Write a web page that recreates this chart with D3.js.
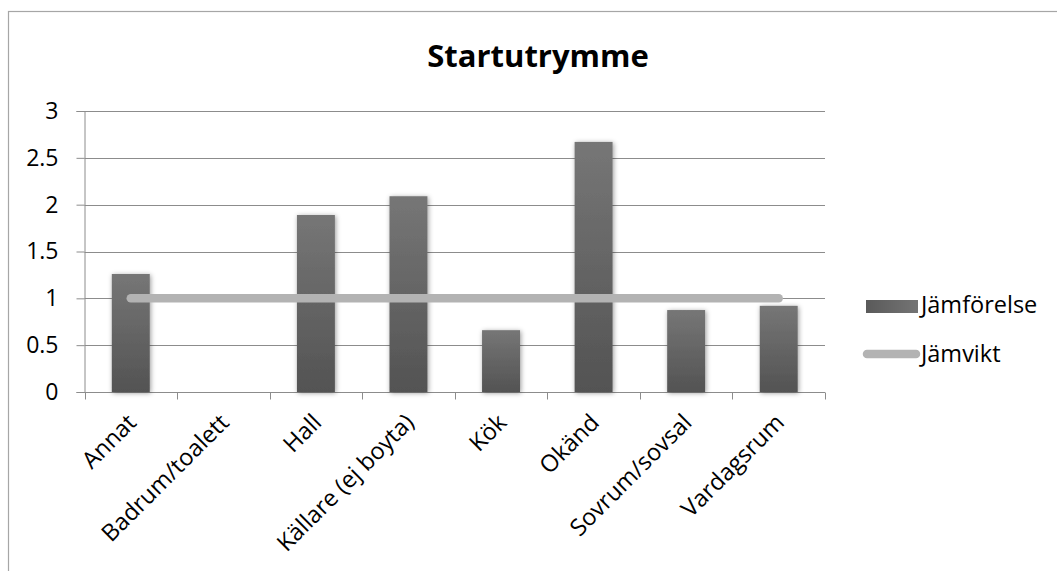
<!DOCTYPE html>
<html>
<head>
<meta charset="utf-8">
<script src="https://cdn.jsdelivr.net/npm/d3@7"></script>
<style>
  html, body { margin: 0; padding: 0; background: #fff; }
  svg { display: block; }
  text { font-family: "Open Sans", "Noto Sans", sans-serif; fill: #000; }
</style>
</head>
<body>
<svg id="chart" width="1057" height="571"></svg>
<script>
// Room categories and their comparison values
const categories = ["Annat", "Badrum/toalett", "Hall", "Källare (ej boyta)", "Kök", "Okänd", "Sovrum/sovsal", "Vardagsrum"];
const jamforelse = [1.26, 0, 1.89, 2.09, 0.66, 2.67, 0.875, 0.92];
const jamvikt = [1, 1, 1, 1, 1, 1, 1, 1];
const yTicks = [0, 0.5, 1, 1.5, 2, 2.5, 3];
const title = "Startutrymme";
const seriesNames = ["Jämförelse", "Jämvikt"];

const svg = d3.select("#chart");
const W = 1057, H = 571;
const plot = { left: 84.5, right: 825, top: 111, bottom: 392 };

const defs = svg.append("defs");
const grad = defs.append("linearGradient")
  .attr("id", "barGrad").attr("x1", 0).attr("y1", 0).attr("x2", 0).attr("y2", 1);
grad.append("stop").attr("offset", "0%").attr("stop-color", "#767676");
grad.append("stop").attr("offset", "100%").attr("stop-color", "#535353");

const legGrad = defs.append("linearGradient")
  .attr("id", "legGrad").attr("x1", 0).attr("y1", 0).attr("x2", 1).attr("y2", 0);
legGrad.append("stop").attr("offset", "0%").attr("stop-color", "#5a5a5a");
legGrad.append("stop").attr("offset", "100%").attr("stop-color", "#747474");

const shadow = defs.append("filter").attr("id", "barShadow")
  .attr("x", "-40%").attr("y", "-10%").attr("width", "180%").attr("height", "125%");
shadow.append("feDropShadow")
  .attr("dx", 1).attr("dy", 1).attr("stdDeviation", 2.4)
  .attr("flood-color", "#000").attr("flood-opacity", 0.4);

// Chart area frame
svg.append("rect")
  .attr("x", 8.5).attr("y", 11.5).attr("width", W + 20).attr("height", H + 20)
  .attr("fill", "#fff").attr("stroke", "#a6a6a6").attr("stroke-width", 1.2);

// Title
svg.append("text")
  .attr("x", 538).attr("y", 67)
  .attr("text-anchor", "middle")
  .style("font-size", "31px").style("font-weight", "bold")
  .text(title);

const x = d3.scaleBand().domain(categories).range([plot.left, plot.right]).padding(0);
const y = d3.scaleLinear().domain([0, 3]).range([plot.bottom, plot.top]);

// Horizontal gridlines
svg.append("g")
  .selectAll("line").data(yTicks.filter(d => d > 0)).join("line")
  .attr("x1", plot.left).attr("x2", plot.right)
  .attr("y1", d => Math.round(y(d)) + 0.5).attr("y2", d => Math.round(y(d)) + 0.5)
  .attr("stroke", "#8c8c8c").attr("stroke-width", 1);

// Y axis
const yAxis = svg.append("g")
  .attr("transform", `translate(${plot.left},0)`)
  .call(d3.axisLeft(y).tickValues(yTicks).tickSize(8).tickPadding(18).tickFormat(d3.format("")));
yAxis.select(".domain").attr("stroke", "#8c8c8c");
yAxis.selectAll(".tick line").attr("stroke", "#8c8c8c");
yAxis.selectAll(".tick text")
  .style("font-size", "23px")
  .style("font-family", "'Open Sans', sans-serif")
  .attr("fill", "#000");

// X axis with ticks at category boundaries
const xAxisG = svg.append("g").attr("transform", `translate(0,${Math.round(plot.bottom) + 0.5})`);
xAxisG.append("line")
  .attr("x1", plot.left).attr("x2", plot.right)
  .attr("stroke", "#8c8c8c");
const boundaries = categories.map(c => x(c)).concat([x(categories[categories.length - 1]) + x.bandwidth()]);
xAxisG.selectAll("line.tk").data(boundaries).join("line")
  .attr("class", "tk")
  .attr("x1", d => Math.round(d) + 0.5).attr("x2", d => Math.round(d) + 0.5)
  .attr("y1", 0).attr("y2", 7)
  .attr("stroke", "#8c8c8c");

// Category labels, rotated
svg.append("g").selectAll("text").data(categories).join("text")
  .attr("transform", d => `translate(${x(d) + x.bandwidth() / 2 - 5},412) rotate(-45)`)
  .attr("text-anchor", "end")
  .attr("dy", "0.72em")
  .style("font-size", "23.5px")
  .text(d => d);

// Bars
const barW = x.bandwidth() * 0.41;
svg.append("g").selectAll("rect").data(jamforelse).join("rect")
  .attr("x", (d, i) => x(categories[i]) + (x.bandwidth() - barW) / 2)
  .attr("y", d => y(d))
  .attr("width", barW)
  .attr("height", d => y(0) - y(d))
  .attr("fill", "url(#barGrad)")
  .attr("filter", "url(#barShadow)");

// Balance line
const line = d3.line()
  .x((d, i) => x(categories[i]) + x.bandwidth() / 2)
  .y(d => y(d));
svg.append("path")
  .datum(jamvikt)
  .attr("d", line)
  .attr("fill", "none")
  .attr("stroke", "#b3b3b3")
  .attr("stroke-width", 8.5)
  .attr("stroke-linecap", "round");

// Legend
const leg = svg.append("g");
leg.append("rect")
  .attr("x", 866).attr("y", 300).attr("width", 52).attr("height", 13)
  .attr("fill", "url(#legGrad)");
leg.append("text")
  .attr("x", 921).attr("y", 313)
  .style("font-size", "23.5px")
  .text(seriesNames[0]);
leg.append("line")
  .attr("x1", 867).attr("x2", 916).attr("y1", 354).attr("y2", 354)
  .attr("stroke", "#b3b3b3").attr("stroke-width", 8.5).attr("stroke-linecap", "round");
leg.append("text")
  .attr("x", 921).attr("y", 362)
  .style("font-size", "23.5px")
  .text(seriesNames[1]);
</script>
</body>
</html>
